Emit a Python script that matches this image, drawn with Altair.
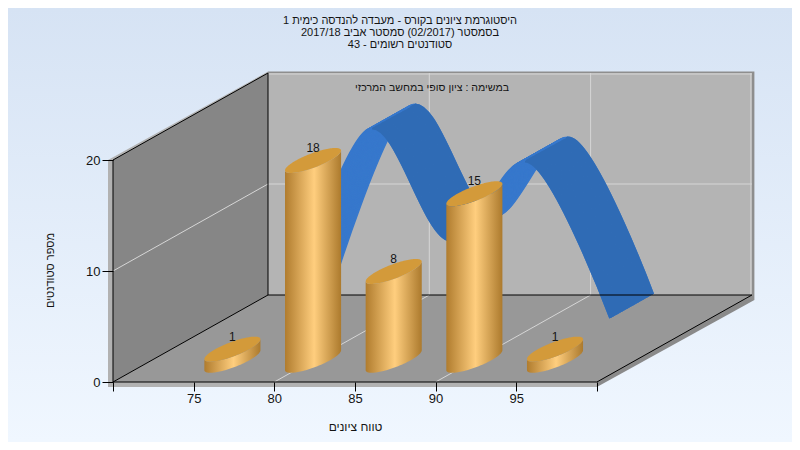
import numpy as np
import pandas as pd
import altair as alt

# ---- data ----
grades = [75, 80, 85, 90, 95]
counts = [1, 18, 8, 15, 1]
title_lines = [
    "היסטוגרמת ציונים בקורס - מעבדה להנדסה כימית 1",
    "בסמסטר  (02/2017)  סמסטר אביב 2017/18",
    "סטודנטים רשומים - 43",
]
task_label = "במשימה : ציון סופי במחשב המרכזי"
x_title = "טווח ציונים"
y_title = "מספר סטודנטים"
x_ticks = [70, 75, 80, 85, 90, 95, 100]
y_ticks = [0, 10, 20]

# ---- oblique 3D frame: pixels per unit and depth in data units ----
PX, PY = 16.13, 11.1
KX, KY = 155 / PX, 87 / PY
X0, X1, Y1 = 70, 100, 20
W, H = 784, 434
FONT = "Liberation Sans"
TEXT = "#141414"


def px(x, z=0.0):
    return float(x + z * KX)


def py(y, z=0.0):
    return float(y + z * KY)


def grad(stops, vertical=False):
    return alt.LinearGradient(
        gradient="linear", x1=0, y1=0, x2=0 if vertical else 1, y2=1 if vertical else 0,
        stops=[alt.GradientStop(color=c, offset=o) for c, o in stops],
    )


x_scale = alt.Scale(domain=[X0 - 105 / PX, X0 + (W - 105) / PX], nice=False, zero=False)
y_scale = alt.Scale(domain=[-60 / PY, 374 / PY], nice=False, zero=False)
x_axis = alt.Axis(
    values=x_ticks, labelExpr="datum.value==70||datum.value==100?'':datum.label",
    offset=-60, domain=False, grid=False, ticks=True, tickColor="#000000", tickSize=9,
    labelFont=FONT, labelFontSize=13, labelColor=TEXT, labelPadding=1, labelOverlap=False, labelFlush=False,
    title=x_title, titleFont=FONT, titleFontSize=12, titleFontWeight="normal", titleColor=TEXT,
    titleX=347, titleY=44, titleBaseline="middle", titleAnchor="middle", zindex=1,
)
y_axis = alt.Axis(
    values=y_ticks, offset=-105, domain=False, grid=False, ticks=True, tickColor="#000000", tickSize=11,
    labelFont=FONT, labelFontSize=13, labelColor=TEXT, labelPadding=2, labelOverlap=False, labelFlush=False,
    title=y_title, titleFont=FONT, titleFontSize=11, titleFontWeight="normal", titleColor=TEXT,
    titleX=-63, titleY=262, titleBaseline="middle", titleAnchor="middle", zindex=1,
)
X = alt.X("x:Q", scale=x_scale, axis=x_axis)
Y = alt.Y("y:Q", scale=y_scale, axis=y_axis)
X2 = alt.X2("x2:Q")
Y2 = alt.Y2("y2:Q")


def vband(xs, top, bottom, fill):
    d = pd.DataFrame({"x": xs, "y": top, "y2": bottom})
    return alt.Chart(d).mark_area(fill=fill, orient="vertical").encode(x=X, y=Y, y2=Y2)


def hband(ys, left, right, fill):
    d = pd.DataFrame({"y": ys, "x": left, "x2": right})
    return alt.Chart(d).mark_area(fill=fill, orient="horizontal").encode(y=Y, x=X, x2=X2)


def rules(segments, color, width=1.0):
    d = pd.DataFrame(segments, columns=["x", "y", "x2", "y2"])
    return alt.Chart(d).mark_rule(color=color, strokeWidth=width).encode(x=X, y=Y, x2=X2, y2=Y2)


# ---- page background ----
bg = alt.Chart(pd.DataFrame({"a": [0]})).mark_rect(
    fill=grad([("#D6E3F4", 0), ("#F0F7FF", 1)], vertical=True)
).encode(x=alt.value(0), x2=alt.value(W), y=alt.value(0), y2=alt.value(H))

# ---- box shell ----
tx, ty = 5 / PX, 5 / PY
shell_back = vband([px(X0, 1), px(X1, 1) + 2.5 / PX], [py(Y1, 1) + 1.5 / PY] * 2,
                   [py(0, 1) - 5 / PY] * 2, "#8E8E8E")
shell_left = vband([px(X0) - tx, px(X0, 1)], [py(Y1) + 0, py(Y1, 1) + 1.5 / PY],
                   [py(0) - ty, py(0, 1) - ty], "#B2B2B2")
shell_floor = hband([py(0) - ty, py(0, 1) - ty], [px(X0), px(X0, 1)],
                    [px(X1), px(X1, 1) + 2.5 / PX], "#8A8A8A")
shell_front = vband([px(X0) - tx, px(X1)], [py(0)] * 2, [py(0) - ty] * 2, "#B2B2B2")

back_wall = vband([px(X0, 1), px(X1, 1)], [py(Y1, 1)] * 2, [py(0, 1)] * 2, "#B4B4B4")
left_wall = vband([px(X0), px(X0, 1)], [py(Y1), py(Y1, 1)], [py(0), py(0, 1)], "#868686")
floor = hband([py(0), py(0, 1)], [px(X0), px(X0, 1)], [px(X1), px(X1, 1)], "#989898")

grid_color = "#D6D6D6"
grid = rules(
    [[px(X0, 1), py(10, 1), px(X1, 1), py(10, 1)],
     [px(X0, 1), py(20, 1) - 1 / PY, px(X1, 1), py(20, 1) - 1 / PY],
     [px(80, 1), py(0, 1), px(80, 1), py(Y1, 1)],
     [px(90, 1), py(0, 1), px(90, 1), py(Y1, 1)],
     [px(X1, 1) - 1 / PX, py(0, 1), px(X1, 1) - 1 / PX, py(Y1, 1)],
     [px(X0), py(10), px(X0, 1), py(10, 1)],
     [px(80), py(0), px(80, 1), py(0, 1)],
     [px(90), py(0), px(90, 1), py(0, 1)]],
    grid_color,
)
edges = rules(
    [[px(X0), py(0), px(X1), py(0)],
     [px(X0), py(0), px(X0), py(Y1)],
     [px(X0), py(Y1), px(X0, 1), py(Y1, 1)],
     [px(X0), py(0), px(X0, 1), py(0, 1)],
     [px(X0, 1), py(0, 1), px(X0, 1), py(Y1, 1)],
     [px(X0, 1), py(0, 1), px(X1, 1), py(0, 1)],
     [px(X1), py(0), px(X1, 1), py(0, 1)]],
    "#000000",
)

# ---- back series: spline ribbon drawn as a stack of lines in depth ----
Z_FRONT, Z_BACK = 0.606, 0.883
rows = []
for i, z in enumerate(np.linspace(Z_FRONT, Z_BACK, 45)):
    for g, c in zip(grades, counts):
        rows.append({"x": px(g, z), "y": py(c, z), "k": i})
ribbon_df = pd.DataFrame(rows)
LIGHT, DARK = "#3778CC", "#2F6BB5"
CLEAR = "rgba(47,107,181,0)"
falling = grad([(CLEAR, 0), (CLEAR, 0.263), (DARK, 0.263), (DARK, 0.507),
                (CLEAR, 0.507), (CLEAR, 0.7345), (DARK, 0.7345), (DARK, 1)])
ribbon_light = alt.Chart(ribbon_df).mark_line(
    stroke=LIGHT, strokeWidth=2, interpolate="cardinal", strokeCap="butt"
).encode(x=X, y=Y, detail="k:N")
ribbon_dark = alt.Chart(ribbon_df).mark_line(
    stroke=falling, strokeWidth=2, interpolate="cardinal", strokeCap="butt"
).encode(x=X, y=Y, detail="k:N")

# ---- front series: cylinders ----
Z_BAR = 0.25
A, B, C = 17.0 / PX, 22.3 / PX, 12.5 / PY  # ellipse terms in data units
R = float(np.hypot(A, B))
u = R * np.cos(np.linspace(np.pi, 0, 61))
root = A * np.sqrt(np.maximum(R * R - u * u, 0))
s_up = (u * B + root) / (R * R)
s_lo = (u * B - root) / (R * R)

metal = grad([("#B07C2E", 0), ("#FFCE7E", 0.52), ("#AC7A2D", 1)])
bodies, cap = [], []
for g, c in zip(grades, counts):
    cx, base, top = px(g, Z_BAR), py(0, Z_BAR), py(c, Z_BAR)
    one = [{"x": cx + ui, "y": top + C * sl, "y2": base + C * sl} for ui, sl in zip(u, s_lo)]
    bodies.append(
        alt.Chart(pd.DataFrame(one)).mark_area(fill=metal, orient="vertical").encode(x=X, y=Y, y2=Y2)
    )
    cap += [{"x": cx + ui, "y": top + C * su, "y2": top + C * sl, "b": g} for ui, su, sl in zip(u, s_up, s_lo)]
caps = alt.Chart(pd.DataFrame(cap)).mark_area(fill="#D39A3A", orient="vertical").encode(
    x=X, y=Y, y2=Y2, detail="b:N"
)
labels_df = pd.DataFrame({
    "x": [px(g, Z_BAR) for g in grades],
    "y": [py(c, Z_BAR) + C for c in counts],
    "t": [str(c) for c in counts],
})
bar_labels = alt.Chart(labels_df).mark_text(
    font=FONT, fontSize=12, color=TEXT, baseline="middle", dy=0
).encode(x=X, y=Y, text="t:N")

task = alt.Chart(pd.DataFrame({
    "x": [px(80.17, 1)], "y": [py(18.65, 1)], "t": [task_label]
})).mark_text(font=FONT, fontSize=10.6, color=TEXT, baseline="middle").encode(x=X, y=Y, text="t:N")

chart = alt.layer(
    bg, shell_back, shell_left, shell_floor, shell_front,
    back_wall, left_wall, floor, grid,
    ribbon_light, ribbon_dark, edges,
    *bodies, caps, bar_labels, task,
).properties(
    width=W, height=H, padding=0,
    autosize=alt.AutoSizeParams(type="none"),
    title=alt.TitleParams(
        text=title_lines, anchor="middle", font=FONT, fontSize=11, fontWeight="normal",
        color=TEXT, lineHeight=12, baseline="top", offset=-42,
    ),
).configure_view(strokeWidth=0)

chart.save("out.html", embed_options={"renderer": "svg", "actions": False})
